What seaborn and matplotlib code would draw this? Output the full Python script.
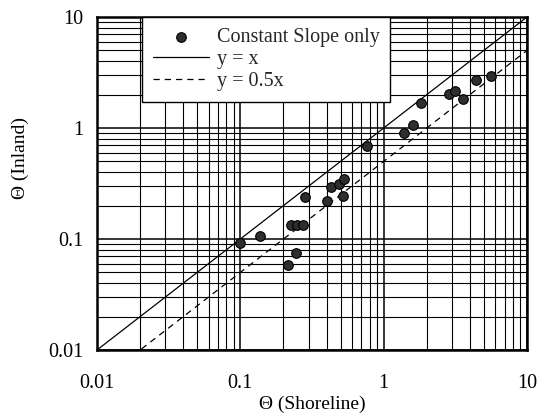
import matplotlib
matplotlib.use("Agg")
import matplotlib.pyplot as plt
import seaborn as sns
import numpy as np
import pandas as pd
from matplotlib.ticker import LogLocator, FixedLocator, FixedFormatter, NullFormatter

# Data
theta_shoreline = [0.0995, 0.137, 0.226, 0.249, 0.274, 0.283, 0.245, 0.215,
                   0.403, 0.43, 0.489, 0.53, 0.519, 0.762, 1.388, 1.60,
                   1.815, 2.86, 3.15, 3.56, 4.41, 5.61]
theta_inland = [0.092, 0.106, 0.134, 0.134, 0.134, 0.239, 0.0748, 0.0583,
                0.22, 0.294, 0.313, 0.348, 0.244, 0.689, 0.902, 1.064,
                1.68, 2.02, 2.15, 1.81, 2.71, 2.94]
line_x = [0.01, 10]
tick_values = [0.01, 0.1, 1, 10]
tick_labels = ["0.01", "0.1", "1", "10"]

sns.set_theme(style="white")
plt.rcParams['font.family'] = ['Liberation Serif', 'DejaVu Serif']

fig = plt.figure(figsize=(5.47, 4.18), dpi=100)
ax = fig.add_axes([97/547, 1-350/418, 430/547, 333/418])

df_pts = pd.DataFrame({"x": theta_shoreline, "y": theta_inland})
df_l1 = pd.DataFrame({"x": line_x, "y": line_x})
df_l2 = pd.DataFrame({"x": line_x, "y": [0.5 * v for v in line_x]})

sns.lineplot(data=df_l1, x="x", y="y", ax=ax, color="black", lw=0.9,
             label="y = x", zorder=3)
sns.lineplot(data=df_l2, x="x", y="y", ax=ax, color="black", lw=0.9,
             linestyle=(0, (5, 4)), label="y = 0.5x", zorder=3)
sns.scatterplot(data=df_pts, x="x", y="y", ax=ax, s=48, color="#2e2e2e",
                edgecolor="black", linewidth=0.8, label="Constant Slope only",
                zorder=4)

ax.set_xscale("log")
ax.set_yscale("log")
ax.set_xlim(0.01, 10)
ax.set_ylim(0.01, 10)

for axis in (ax.xaxis, ax.yaxis):
    axis.set_major_locator(FixedLocator(tick_values))
    axis.set_major_formatter(FixedFormatter(tick_labels))
    axis.set_minor_locator(LogLocator(base=10, subs=np.arange(2, 10)))
    axis.set_minor_formatter(NullFormatter())

ax.grid(True, which="major", color="black", lw=1.1)
ax.grid(True, which="minor", color="black", lw=0.8)
ax.set_axisbelow(True)

for s in ax.spines.values():
    s.set_color("black")
    s.set_linewidth(1.8)

ax.tick_params(axis="x", which="major", labelsize=14.5, length=0, pad=17,
               colors="black")
ax.tick_params(axis="y", which="major", labelsize=14.5, length=0, pad=10,
               colors="black")
ax.tick_params(axis="both", which="minor", length=0)

ax.set_xlabel("Θ (Shoreline)", fontsize=14, color="black")
ax.set_ylabel("Θ (Inland)", fontsize=14, color="black")
ax.xaxis.set_label_coords(0.5, -0.138)
ax.yaxis.set_label_coords(-0.158, 0.577)

handles, labels = ax.get_legend_handles_labels()
order = [labels.index("Constant Slope only"), labels.index("y = x"), labels.index("y = 0.5x")]
leg = ax.legend([handles[i] for i in order], [labels[i] for i in order],
                loc="upper left", bbox_to_anchor=(45/430, 1.0), fontsize=14.5,
                frameon=True, fancybox=False, framealpha=1, edgecolor="black",
                borderpad=0.55, handlelength=2.8, handletextpad=0.35,
                labelspacing=0.15, borderaxespad=0)
leg.get_frame().set_linewidth(1.0)
leg.set_zorder(10)

fig.savefig("out.png", dpi=100)
